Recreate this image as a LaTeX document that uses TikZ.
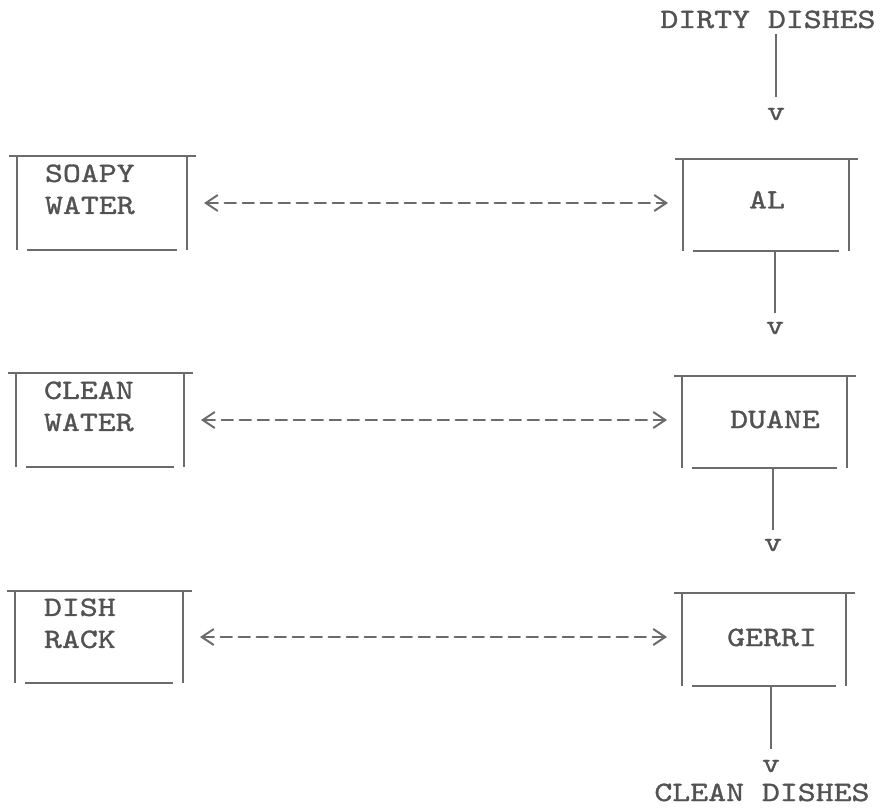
\documentclass[tikz,border=0pt]{standalone}
\usepackage{fontspec}
% typewriter face, widened to the pitch of an office typewriter
\newfontfamily\tw[FakeStretch=1.22,FakeBold=1.2]{lmmono10-regular.otf}
\usetikzlibrary{arrows.meta}
\definecolor{ink}{gray}{0.32}
\definecolor{rule}{gray}{0.42}
\tikzset{
  ttext/.style={font=\tw\fontsize{28}{32}\selectfont, text=ink, inner sep=0pt, outer sep=0pt},
  station/.style={inner sep=0pt, outer sep=0pt, minimum width=#1},
  boxline/.style={draw=rule, line width=1.8pt},
  stem/.style={draw=rule, line width=1.8pt},
  pairlink/.style={draw=rule, line width=2.6pt, line cap=round,
    dash pattern=on 11pt off 7pt, shorten <=13pt, shorten >=11pt,
    {Straight Barb[length=12pt,width=16pt,line width=2pt,sep=4pt]}-{Straight Barb[length=12pt,width=16pt,line width=2pt,sep=4pt]}}
}
% open-ended frame: long top rule, two sides, short inset bottom rule
\newcommand\stationframe[1]{%
  \draw[boxline] ([xshift=-8pt]#1.north west) -- ([xshift=9pt]#1.north east);
  \draw[boxline] (#1.north west) -- (#1.south west);
  \draw[boxline] (#1.north east) -- (#1.south east);
  \draw[boxline] ([xshift=10pt]#1.south west) -- ([xshift=-10pt]#1.south east);}
\begin{document}
\begin{tikzpicture}[x=1pt, y=-1pt]
\useasboundingbox (0,0) rectangle (880,810);

% ---- workers ----
\node[station=166pt, minimum height=92pt] (al)    at (766,205)   {};
\node[station=165pt, minimum height=92pt] (duane) at (764.5,422) {};
\node[station=164pt, minimum height=93pt] (gerri) at (764,639.5) {};
\node[ttext, anchor=base] (al-t)    at (767,208.5) {AL};
\node[ttext, anchor=base] (duane-t) at (775,428)   {DUANE};
\node[ttext, anchor=base] (gerri-t) at (772,646)   {GERRI};

% ---- supplies ----
\node[station=170pt, minimum height=94pt] (soapy) at (102,203) {};
\node[station=168pt, minimum height=94pt] (clean) at (100,420) {};
\node[station=168pt, minimum height=92pt] (rack)  at (99,637)  {};
\node[ttext, anchor=north west, align=left] (soapy-t) at (45,164.5) {SOAPY\\WATER};
\node[ttext, anchor=north west, align=left] (clean-t) at (44,381.5) {CLEAN\\WATER};
\node[ttext, anchor=north west, align=left] (rack-t)  at (44,598.5) {DISH\\RACK};

\foreach \b in {al,duane,gerri,soapy,clean,rack} {\stationframe{\b}}

% ---- dish flow ----
\node[ttext, anchor=base] (dirty) at (768,28)  {DIRTY DISHES};
\node[ttext, anchor=base] (v1)    at (776,120) {v};
\node[ttext, anchor=base] (v2)    at (775,334) {v};
\node[ttext, anchor=base] (v3)    at (773,551) {v};
\node[ttext, anchor=base] (v4)    at (771,772) {v};
\node[ttext, anchor=base] (done)  at (762,801) {CLEAN DISHES};

\draw[stem, shorten <=6pt, shorten >=11pt] (dirty.south -| v1) -- (v1.north);
\draw[stem, shorten >=9pt]  (al.south -| v2)    -- (v2.north);
\draw[stem, shorten >=9pt]  (duane.south -| v3) -- (v3.north);
\draw[stem, shorten >=11pt] (gerri.south -| v4) -- (v4.north);

% ---- supply links ----
\draw[pairlink] (soapy.east) -- (soapy.east -| al.west);
\draw[pairlink] (clean.east) -- (clean.east -| duane.west);
\draw[pairlink] (rack.east)  -- (rack.east -| gerri.west);
\end{tikzpicture}
\end{document}
